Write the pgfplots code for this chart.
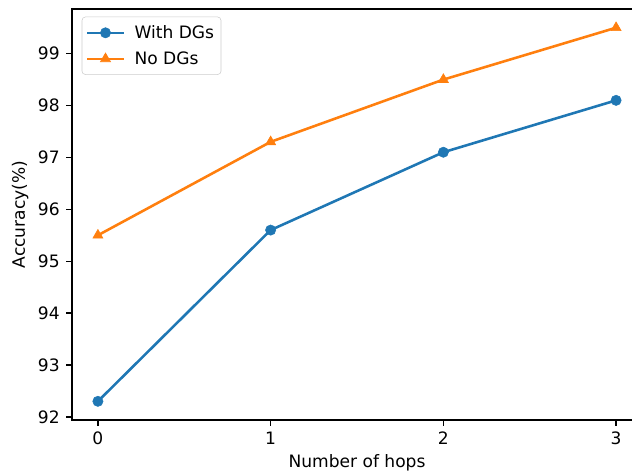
\documentclass[border=0pt]{standalone}
\usepackage{fontspec}
\setmainfont{DejaVu Sans}
\usepackage{pgfplots}
\pgfplotsset{compat=1.18}

\definecolor{tabblue}{HTML}{1F77B4}
\definecolor{taborange}{HTML}{FF7F0E}

\begin{document}
\begin{tikzpicture}
\useasboundingbox (-51.84pt,-38.16pt) rectangle (403.2pt,302.4pt);
\clip (-51.84pt,-38.16pt) rectangle (403.2pt,302.4pt);
\begin{axis}[
  at={(0pt,0pt)}, anchor=south west,
  scale only axis,
  width=410.4pt, height=295.9pt,
  xmin=-0.15, xmax=3.15,
  ymin=91.94, ymax=99.86,
  xtick={0,1,2,3},
  ytick={92,93,94,95,96,97,98,99},
  xtick pos=left, ytick pos=left,
  tick align=outside,
  major tick length=4.3pt,
  tick style={black, line width=1pt},
  axis line style={black, line width=1pt},
  /pgf/number format/assume math mode=true,
  ticklabel style={font=\fontsize{12.3}{14.8}\selectfont},
  xticklabel style={yshift=-1pt},
  yticklabel style={xshift=-1pt},
  xlabel={Number of hops},
  ylabel={Accuracy(\%)},
  label style={font=\fontsize{12.3}{14.8}\selectfont},
  legend style={
    at={(0,1)}, anchor=north west, xshift=7pt, yshift=-5.5pt,
    draw=black!20, rounded corners=2.5pt, fill=white,
    font=\fontsize{12.3}{14.8}\selectfont,
    inner xsep=3pt, inner ysep=4pt,
    row sep=4pt,
    /tikz/every odd column/.append style={column sep=5pt},
  },
  legend cell align=left,
  legend image code/.code={
    \draw[mark repeat=2, mark phase=2, #1] plot coordinates {(0pt,0pt) (13pt,0pt) (26pt,0pt)};
  },
]
\addplot[color=tabblue, line width=1.85pt, mark=*, mark size=3.7pt,
  mark options={solid, fill=tabblue, draw=tabblue, line width=0.4pt}]
  coordinates {(0,92.3) (1,95.6) (2,97.1) (3,98.1)};
\addlegendentry{With DGs}
\addplot[color=taborange, line width=1.85pt, mark=triangle*, mark size=4.2pt,
  mark options={solid, fill=taborange, draw=taborange, line width=0.4pt}]
  coordinates {(0,95.5) (1,97.3) (2,98.5) (3,99.5)};
\addlegendentry{No DGs}
\end{axis}
\end{tikzpicture}
\end{document}
